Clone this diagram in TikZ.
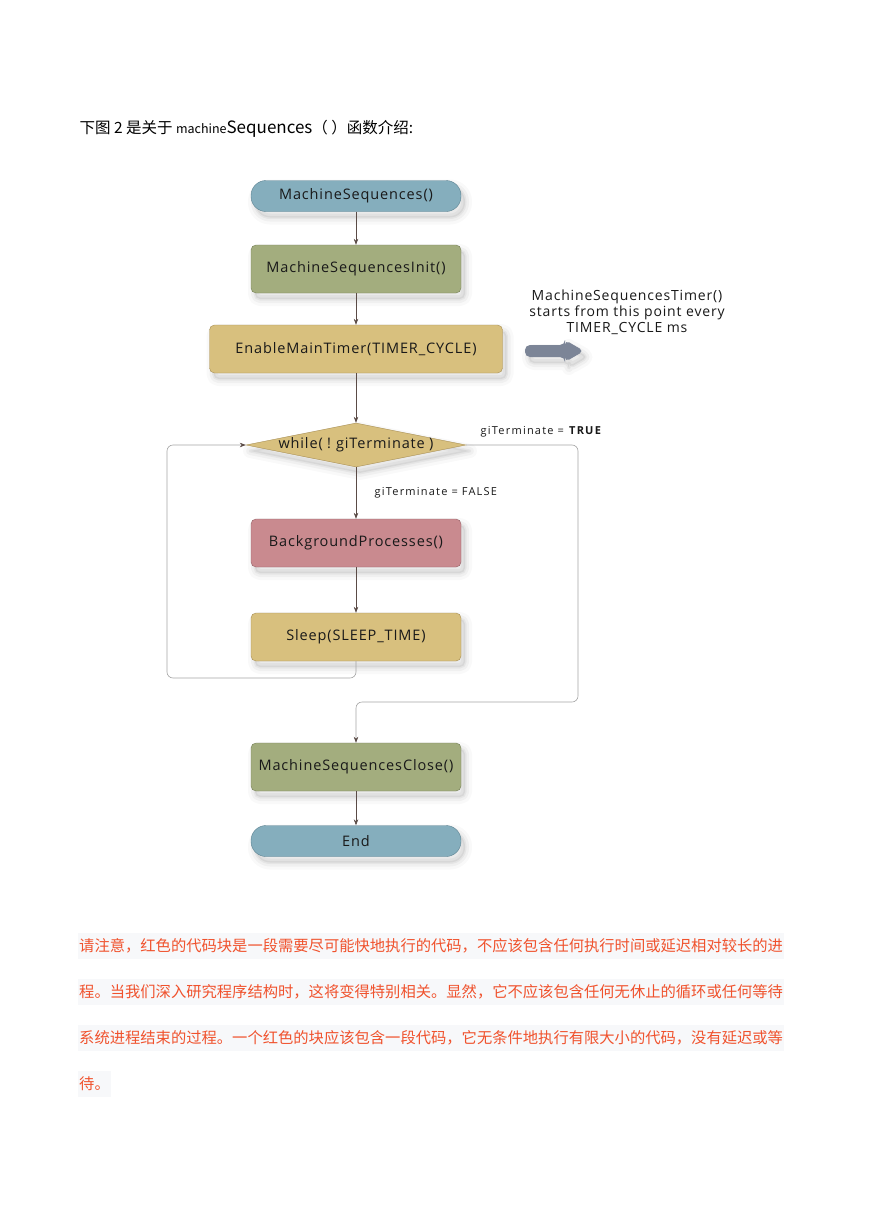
\documentclass[tikz,border=0pt]{standalone}
\usepackage{fontspec}
\setmainfont{Open Sans}
\newfontfamily\cjkfont{Noto Sans CJK SC}
\newfontfamily\chartfont[LetterSpace=6]{Open Sans}
\newfontfamily\labelfont[LetterSpace=11]{Open Sans}
\usepackage{tikz}
\usetikzlibrary{arrows.meta, positioning, shapes.geometric}
\definecolor{pillblue}{RGB}{133,174,189}
\definecolor{pillbluedark}{RGB}{92,130,145}
\definecolor{initgreen}{RGB}{163,173,126}
\definecolor{initgreendark}{RGB}{118,128,88}
\definecolor{timertan}{RGB}{216,192,126}
\definecolor{timertandark}{RGB}{168,143,85}
\definecolor{bgred}{RGB}{201,138,143}
\definecolor{bgreddark}{RGB}{150,98,104}
\definecolor{arrowgray}{RGB}{124,133,151}
\definecolor{linkbrown}{RGB}{90,75,70}
\definecolor{loopgray}{RGB}{165,165,165}
\definecolor{notered}{RGB}{240,82,45}
\definecolor{bandgray}{RGB}{247,248,250}
\definecolor{boxtext}{RGB}{25,25,25}

\begin{document}
\begin{tikzpicture}[x=1pt, y=1pt,
      softshadow/.style={
        preaction={draw=black, line width=14pt, line join=round, draw opacity=0.025, transform canvas={shift={(4pt,-6pt)}}},
        preaction={draw=black, line width=8pt, line join=round, draw opacity=0.035, transform canvas={shift={(4pt,-6pt)}}},
        preaction={draw=black, line width=3pt, line join=round, draw opacity=0.045, fill=black, fill opacity=0.06, transform canvas={shift={(4pt,-6pt)}}}},
      block/.style={rectangle, draw, rounded corners=5pt, minimum height=48pt, minimum width=210pt, inner sep=0pt, font=\chartfont\fontsize{14.5}{16}\selectfont, text=boxtext, softshadow},
      terminal/.style={block, rounded corners=15pt, minimum height=31pt, fill=pillblue, draw=pillbluedark},
      initbox/.style={block, fill=initgreen, draw=initgreendark},
      timerbox/.style={block, fill=timertan, draw=timertandark},
      redbox/.style={block, fill=bgred, draw=bgreddark},
      decision/.style={diamond, aspect=5, draw=timertandark, fill=timertan, minimum width=220pt, minimum height=44pt, inner sep=0pt, font=\chartfont\fontsize{14.5}{16}\selectfont, text=boxtext, softshadow},
      conn/.style={draw=linkbrown, line width=0.6pt, -{Stealth[length=6pt, width=4.5pt, color=linkbrown]}},
      loopline/.style={conn, draw=loopgray, rounded corners=6pt},
      lbl/.style={font=\labelfont\fontsize{11}{13}\selectfont, text=boxtext},
      notetext/.style={font=\chartfont\fontsize{14}{16}\selectfont, text=boxtext, align=center},
      band/.style={anchor=west, fill=bandgray, inner xsep=1pt, inner ysep=0pt, minimum height=26pt, text=notered, font=\cjkfont\fontsize{15.3}{18}\selectfont}
    ]
      \fill[white] (0,0) rectangle (869,-1228);
      \useasboundingbox (0,0) rectangle (869,-1228);

      \node[anchor=west, font=\cjkfont\fontsize{15.5}{18}\selectfont, text=black] (title) at (76,-129)
        {下图 2 是关于 {\fontsize{12.5}{14}\selectfont machine}{\fontsize{17}{18}\selectfont Sequences}（ ）函数介绍:};

      \node[terminal] (start) at (356,-196) {MachineSequences()};
      \node[initbox] (init) at (356,-269) {MachineSequencesInit()};
      \node[timerbox, minimum width=293pt] (timer) at (356,-349) {EnableMainTimer(TIMER\_CYCLE)};
      \node[notetext] (timernote) at (627,-312) {MachineSequencesTimer()\\starts from this point every\\TIMER\_CYCLE ms};
      \node[decision] (loop) at (356,-445) {\makebox[0pt]{while(\hspace{0.3em}!\hspace{0.35em}giTerminate\hspace{0.3em})}};
      \node[redbox] (bg) at (356,-543) {BackgroundProcesses()};
      \node[timerbox] (sleep) at (356,-637) {Sleep(SLEEP\_TIME)};
      \node[initbox] (close) at (356,-767) {MachineSequencesClose()};
      \node[terminal] (end) at (356,-841) {End};
      \coordinate (loopcorner) at (167,-678);
      \coordinate (exitcorner) at (578,-702);
      \node[lbl, above right=4pt and 11pt of loop.east] (truelbl) {giTerminate = \textbf{TRUE}};

      % fat arrow pointing at the timer note
      \fill[arrowgray, rounded corners=5pt, softshadow] (525,-345) -- (565,-345) -- (565,-340)
        -- (584,-351) -- (565,-362) -- (565,-357) -- (525,-357) -- cycle;

      \draw[conn] (start) -- (init);
      \draw[conn] (init) -- (timer);
      \draw[conn] (timer) -- (loop);
      \draw[conn] (loop) -- node[lbl, right=15pt] {giTerminate = FALSE} (bg);
      \draw[conn] (bg) -- (sleep);
      \draw[loopline] (sleep.south) |- (loopcorner) |- (loop.west);
      \draw[loopline] (loop.east) -| (exitcorner) -| (close.north);
      \draw[conn] (close) -- (end);

      % note below the chart
      \node[band] (note1) at (78,-946) {请注意，红色的代码块是一段需要尽可能快地执行的代码，不应该包含任何执行时间或延迟相对较长的进};
      \node[band] (note2) at (78,-992) {程。当我们深入研究程序结构时，这将变得特别相关。显然，它不应该包含任何无休止的循环或任何等待};
      \node[band] (note3) at (78,-1038) {系统进程结束的过程。一个红色的块应该包含一段代码，它无条件地执行有限大小的代码，没有延迟或等};
      \node[band] (note4) at (78,-1084) {待。};
    \end{tikzpicture}
\end{document}
